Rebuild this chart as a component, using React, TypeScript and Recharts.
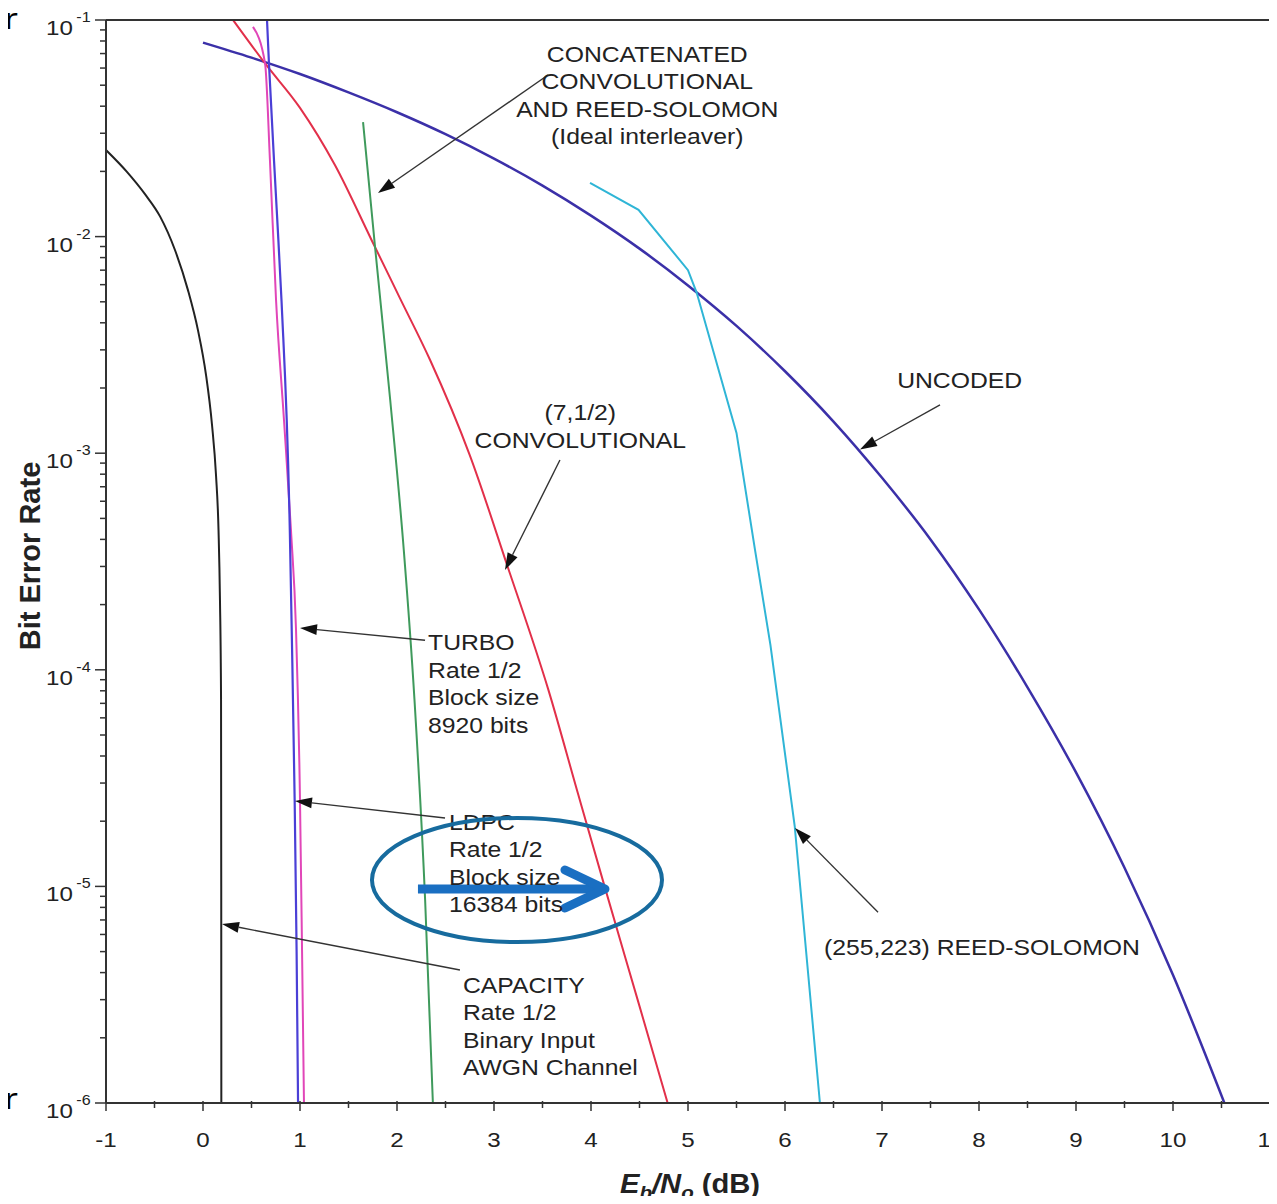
import { LineChart, Line, XAxis, YAxis, ReferenceLine, ReferenceDot } from "recharts";

const FONT = '"Liberation Sans", Arial, Helvetica, sans-serif';
const INK = "#222";
const AXIS = "#333";
const SX = 1.15;

// x axis (Eb/No, dB)
const xTicks = [-1, -0.5, 0, 0.5, 1, 1.5, 2, 2.5, 3, 3.5, 4, 4.5, 5, 5.5, 6, 6.5, 7, 7.5, 8, 8.5, 9, 9.5, 10, 10.5, 11];
// y axis (log decades + minor mantissas)
const yDecades = [-6, -5, -4, -3, -2];
const yMantissas = [1, 2, 3, 4, 5, 6, 7, 8, 9];
const yTicks = [...yDecades.flatMap((e) => yMantissas.map((m) => m * Math.pow(10, e))), 1e-1];

// series
const uncodedEbNo = [0, 0.5, 1, 1.5, 2, 2.5, 3, 3.5, 4, 4.5, 5, 5.5, 6, 6.5, 7, 7.5, 8, 8.5, 9, 9.5, 10, 10.53];
const uncodedBer = [7.86e-2, 6.7e-2, 5.63e-2, 4.63e-2, 3.75e-2, 2.97e-2, 2.29e-2, 1.72e-2, 1.25e-2, 8.8e-3, 5.95e-3, 3.87e-3, 2.39e-3, 1.4e-3, 7.7e-4, 4.0e-4, 1.9e-4, 8.3e-5, 3.36e-5, 1.22e-5, 3.9e-6, 1e-6];

const convEbNo = [0.31, 0.64, 1.0, 1.36, 1.74, 2.03, 2.34, 2.75, 3.14, 3.56, 3.87, 4.14, 4.5, 4.79];
const convBer = [1e-1, 6.3e-2, 3.93e-2, 2.14e-2, 9.6e-3, 5.2e-3, 2.7e-3, 9.8e-4, 3e-4, 8.1e-5, 2.64e-5, 1e-5, 2.8e-6, 1e-6];

const concatEbNo = [1.65, 1.77, 1.93, 2.07, 2.18, 2.29, 2.37];
const concatBer = [3.38e-2, 9.3e-3, 1.76e-3, 3.57e-4, 7.3e-5, 8.65e-6, 1e-6];

const rsEbNo = [3.99, 4.49, 5.0, 5.09, 5.5, 5.69, 5.85, 6.1, 6.36];
const rsBer = [1.77e-2, 1.33e-2, 7e-3, 5.5e-3, 1.24e-3, 3.6e-4, 1.3e-4, 1.9e-5, 1e-6];

const ldpcEbNo = [0.66, 0.68, 0.76, 0.81, 0.895, 0.915, 0.945, 0.965, 0.98];
const ldpcBer = [1e-1, 6.3e-2, 1.33e-2, 5e-3, 4.4e-4, 1.5e-4, 2.5e-5, 5e-6, 1e-6];

const turboEbNo = [0.515, 0.64, 0.69, 0.753, 0.835, 0.907, 0.959, 1.0, 1.021, 1.041];
const turboBer = [9.3e-2, 6.3e-2, 2.26e-2, 5.1e-3, 1.42e-3, 4.4e-4, 1.53e-4, 2.5e-5, 5.1e-6, 1e-6];

const capEbNo = [-1, -0.784, -0.598, -0.443, -0.289, -0.155, -0.052, 0.031, 0.093, 0.134, 0.16, 0.175, 0.186, 0.188, 0.189];
const capBer = [2.51e-2, 1.99e-2, 1.57e-2, 1.24e-2, 8.67e-3, 5.66e-3, 3.7e-3, 2.3e-3, 1.35e-3, 7.93e-4, 4.42e-4, 2.1e-4, 7.27e-5, 1e-5, 1e-6];

const zip = (xs: number[], ys: number[]) => xs.map((ebno, i) => ({ ebno, ber: ys[i] }));

// annotation anchors in data units
const notes = [
  { x: 4.58, y: 6.4e-2, anchor: "middle", lines: ["CONCATENATED", "CONVOLUTIONAL", "AND REED-SOLOMON", "(Ideal interleaver)"] },
  { x: 3.89, y: 1.42e-3, anchor: "middle", lines: ["(7,1/2)", "CONVOLUTIONAL"] },
  { x: 7.8, y: 2.0e-3, anchor: "middle", lines: ["UNCODED"] },
  { x: 2.32, y: 1.23e-4, anchor: "start", lines: ["TURBO", "Rate 1/2", "Block size", "8920 bits"] },
  { x: 2.536, y: 1.82e-5, anchor: "start", lines: ["LDPC", "Rate 1/2", "Block size", "16384 bits"] },
  { x: 2.68, y: 3.22e-6, anchor: "start", lines: ["CAPACITY", "Rate 1/2", "Binary Input", "AWGN Channel"] },
  { x: 6.402, y: 4.82e-6, anchor: "start", lines: ["(255,223) REED-SOLOMON"] },
];

const pointers = [
  { from: [3.557, 5.57e-2], to: [1.804, 1.59e-2] },
  { from: [3.68, 9.3e-4], to: [3.113, 2.89e-4] },
  { from: [7.598, 1.67e-3], to: [6.773, 1.04e-3] },
  { from: [2.289, 1.37e-4], to: [1.0, 1.56e-4] },
  { from: [2.495, 2.07e-5], to: [0.948, 2.48e-5] },
  { from: [2.649, 4.11e-6], to: [0.196, 6.7e-6] },
  { from: [6.959, 7.6e-6], to: [6.103, 1.86e-5] },
];

const highlightCenter = { x: 3.237, y: 1.07e-5 };
const highlightArrow = { from: [2.216, 9.73e-6], to: [4.144, 9.73e-6] };

const isMajor = (v: number) => {
  const lg = Math.log10(v);
  return Math.abs(lg - Math.round(lg)) < 1e-6;
};

function LeftTick({ x, y, payload }: any) {
  const major = isMajor(payload.value);
  const exp = Math.round(Math.log10(payload.value));
  return (
    <g>
      <line x1={x} x2={x - (major ? 11 : 6)} y1={y} y2={y} stroke={AXIS} strokeWidth={1.5} />
      {major && (
        <g transform={`translate(${x - 60} ${y + 15}) scale(${SX} 1)`}>
          <text fontFamily={FONT} fontSize={21} fill={INK}>
            10
            <tspan fontSize={14} dx={3} dy={-13}>{`-${-exp}`}</tspan>
          </text>
        </g>
      )}
    </g>
  );
}

function RightTick({ x, y, payload }: any) {
  const major = isMajor(payload.value);
  return <line x1={x} x2={x + (major ? 9 : 5)} y1={y} y2={y} stroke={AXIS} strokeWidth={1.5} />;
}

function BottomTick({ x, y, payload }: any) {
  const major = Number.isInteger(payload.value);
  return (
    <g>
      <line x1={x} x2={x} y1={y - 2} y2={y + (major ? 8 : 5)} stroke={AXIS} strokeWidth={1.5} />
      {major && (
        <g transform={`translate(${x} ${y + 44}) scale(${SX} 1)`}>
          <text textAnchor="middle" fontFamily={FONT} fontSize={21} fill={INK}>
            {String(payload.value)}
          </text>
        </g>
      )}
    </g>
  );
}

function TopTick({ x, y, payload }: any) {
  const major = Number.isInteger(payload.value);
  return <line x1={x} x2={x} y1={y} y2={y - (major ? 8 : 5)} stroke={AXIS} strokeWidth={1.5} />;
}

function Pointer(props: any) {
  const { x1, y1, x2, y2 } = props;
  if (![x1, y1, x2, y2].every((v) => typeof v === "number" && isFinite(v))) return null;
  const ang = Math.atan2(y2 - y1, x2 - x1);
  const len = 17;
  const half = 5.5;
  const bx = x2 - len * Math.cos(ang);
  const by = y2 - len * Math.sin(ang);
  const px = -Math.sin(ang) * half;
  const py = Math.cos(ang) * half;
  return (
    <g>
      <line x1={x1} y1={y1} x2={bx} y2={by} stroke="#333" strokeWidth={1.4} />
      <polygon points={`${x2},${y2} ${bx + px},${by + py} ${bx - px},${by - py}`} fill="#111" />
    </g>
  );
}

function BigArrow(props: any) {
  const { x1, y1, x2, y2 } = props;
  if (![x1, y1, x2, y2].every((v) => typeof v === "number" && isFinite(v))) return null;
  return (
    <g stroke="#1a6fc2" strokeWidth={9} fill="none">
      <line x1={x1} y1={y1} x2={x2 - 6} y2={y2} />
      <polyline points={`${x2 - 40},${y2 - 19} ${x2},${y2} ${x2 - 40},${y2 + 19}`} strokeLinecap="round" strokeLinejoin="round" />
    </g>
  );
}

function NoteBlock({ cx, cy, lines, anchor }: any) {
  if (typeof cx !== "number" || typeof cy !== "number") return null;
  return (
    <g transform={`translate(${cx} ${cy}) scale(${SX} 1)`}>
      <text textAnchor={anchor} fontFamily={FONT} fontSize={21.5} fill={INK}>
        {lines.map((l: string, i: number) => (
          <tspan key={i} x={0} y={i * 27.4}>
            {l}
          </tspan>
        ))}
      </text>
    </g>
  );
}

export default function App() {
  return (
    <div style={{ position: "relative", width: 1277, height: 1204, margin: -8, background: "#fff", overflow: "hidden" }}>
      <LineChart
        width={1277}
        height={1204}
        margin={{ top: 10, right: 2, bottom: 61, left: 46 }}
        style={{ position: "absolute", left: 0, top: 0 }}
      >
        <XAxis
          dataKey="ebno"
          type="number"
          domain={[-1, 11]}
          ticks={xTicks}
          interval={0}
          allowDataOverflow
          height={40}
          tickSize={0}
          tickMargin={0}
          tick={<BottomTick />}
          axisLine={{ stroke: AXIS, strokeWidth: 2 }}
        />
        <XAxis
          xAxisId="top"
          orientation="top"
          type="number"
          domain={[-1, 11]}
          ticks={xTicks}
          interval={0}
          allowDataOverflow
          height={10}
          tickSize={0}
          tickMargin={0}
          tick={<TopTick />}
          axisLine={{ stroke: AXIS, strokeWidth: 2 }}
        />
        <YAxis
          type="number"
          scale="log"
          domain={[1e-6, 1e-1]}
          ticks={yTicks}
          interval={0}
          allowDataOverflow
          width={60}
          tickSize={0}
          tickMargin={0}
          tick={<LeftTick />}
          axisLine={{ stroke: AXIS, strokeWidth: 2 }}
        />
        <YAxis
          yAxisId="right"
          orientation="right"
          type="number"
          scale="log"
          domain={[1e-6, 1e-1]}
          ticks={yTicks}
          interval={0}
          allowDataOverflow
          width={5}
          tickSize={0}
          tickMargin={0}
          tick={<RightTick />}
          axisLine={{ stroke: AXIS, strokeWidth: 2 }}
        />

        <Line data={zip(capEbNo, capBer)} dataKey="ber" type="monotone" stroke="#222" strokeWidth={2} dot={false} isAnimationActive={false} />
        <Line data={zip(uncodedEbNo, uncodedBer)} dataKey="ber" type="monotone" stroke="#3b30a8" strokeWidth={2.5} dot={false} isAnimationActive={false} />
        <Line data={zip(convEbNo, convBer)} dataKey="ber" type="monotone" stroke="#e2304a" strokeWidth={2} dot={false} isAnimationActive={false} />
        <Line data={zip(concatEbNo, concatBer)} dataKey="ber" type="monotone" stroke="#3f9a5c" strokeWidth={2} dot={false} isAnimationActive={false} />
        <Line data={zip(rsEbNo, rsBer)} dataKey="ber" type="linear" stroke="#2fb5d6" strokeWidth={2} dot={false} isAnimationActive={false} />
        <Line data={zip(turboEbNo, turboBer)} dataKey="ber" type="monotone" stroke="#e146b8" strokeWidth={2} dot={false} isAnimationActive={false} />
        <Line data={zip(ldpcEbNo, ldpcBer)} dataKey="ber" type="monotone" stroke="#4a3fd6" strokeWidth={2.2} dot={false} isAnimationActive={false} />

        {pointers.map((p, i) => (
          <ReferenceLine
            key={`p${i}`}
            segment={[
              { x: p.from[0], y: p.from[1] },
              { x: p.to[0], y: p.to[1] },
            ]}
            shape={(props: any) => <Pointer {...props} />}
          />
        ))}
        {notes.map((n, i) => (
          <ReferenceDot
            key={`n${i}`}
            x={n.x}
            y={n.y}
            r={0}
            shape={(props: any) => <NoteBlock cx={props.cx} cy={props.cy} lines={n.lines} anchor={n.anchor} />}
          />
        ))}
        <ReferenceDot
          x={highlightCenter.x}
          y={highlightCenter.y}
          r={0}
          shape={(props: any) =>
            typeof props.cx === "number" ? (
              <ellipse cx={props.cx} cy={props.cy} rx={145} ry={62} fill="none" stroke="#176b9e" strokeWidth={4} />
            ) : null
          }
        />
        <ReferenceLine
          segment={[
            { x: highlightArrow.from[0], y: highlightArrow.from[1] },
            { x: highlightArrow.to[0], y: highlightArrow.to[1] },
          ]}
          shape={(props: any) => <BigArrow {...props} />}
        />
      </LineChart>

      <svg width={1277} height={1204} style={{ position: "absolute", left: 0, top: 0, pointerEvents: "none" }}>
        <text
          transform="translate(40 556) rotate(-90)"
          textAnchor="middle"
          fontFamily={FONT}
          fontSize={29}
          fontWeight="bold"
          fill={INK}
        >
          Bit Error Rate
        </text>
        <g transform="translate(620 1193) scale(1.08 1)">
          <text fontFamily={FONT} fontSize={27} fontWeight="bold" fill={INK}>
            <tspan fontStyle="italic">E</tspan>
            <tspan fontStyle="italic" fontSize={19} dy={6}>b</tspan>
            <tspan fontStyle="italic" dy={-6}>/N</tspan>
            <tspan fontStyle="italic" fontSize={19} dy={6}>o</tspan>
            <tspan dy={-6}> (dB)</tspan>
          </text>
        </g>
        <g transform="translate(3 29) scale(1.5 1)">
          <text fontFamily={FONT} fontSize={30} fill="#000">r</text>
        </g>
        <g transform="translate(3 1109) scale(1.5 1)">
          <text fontFamily={FONT} fontSize={30} fill="#000">r</text>
        </g>
      </svg>
    </div>
  );
}
